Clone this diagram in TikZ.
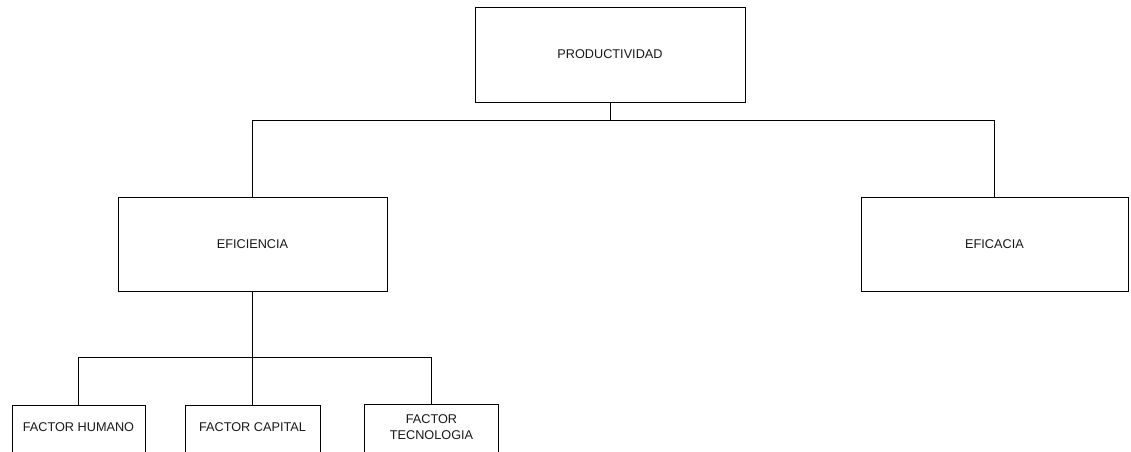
\documentclass[tikz,border=0pt]{standalone}
\usepackage{fontspec}
\setmainfont{Liberation Sans}
\begin{document}
\begin{tikzpicture}[x=1pt,y=-1pt,
  box/.style={draw=black, line width=1pt, fill=white, inner sep=0pt},
  lbl/.style={font=\fontsize{12.7}{15.5}\selectfont, text=black!90, align=center, inner sep=0pt},
  link/.style={draw=black, line width=1pt}]
\useasboundingbox (0,0) rectangle (1131,451);
\clip (0,0) rectangle (1131,451);

% upper levels
\node[box, minimum width=270pt, minimum height=95pt] (prod) at (610,54.5) {};
\node[lbl] (prodT) at (prod.center) {PRODUCTIVIDAD};
\node[box, minimum width=269pt, minimum height=94pt] (efi) at (252.5,244) {};
\node[lbl] (efiT) at (efi.center) {EFICIENCIA};
\node[box, minimum width=267pt, minimum height=94pt] (efic) at (994.5,244) {};
\node[lbl] (eficT) at (efic.center) {EFICACIA};

% factor boxes, running past the lower edge
\node[box, anchor=north, minimum width=133pt, minimum height=70pt] (hum) at (78.5,405) {};
\node[lbl] (humT) at (78.5,427) {FACTOR HUMANO};
\node[box, anchor=north, minimum width=135pt, minimum height=70pt] (cap) at (252.5,405) {};
\node[lbl] (capT) at (252.5,427) {FACTOR CAPITAL};
\node[box, anchor=north, minimum width=134pt, minimum height=70pt] (tec) at (431.5,404) {};
\node[lbl] (tecT) at (431.5,427) {FACTOR\\TECNOLOGIA};

% tree connectors
\draw[link] (prod.south) -- ++(0,18) coordinate (topbar);
\draw[link] (topbar) -| (efi.north);
\draw[link] (topbar) -| (efic.north);
\draw[link] (efi.south) -- ++(0,66) coordinate (lowbar);
\draw[link] (lowbar) -| (hum.north);
\draw[link] (lowbar) -- (cap.north);
\draw[link] (lowbar) -| (tec.north);
\end{tikzpicture}
\end{document}
